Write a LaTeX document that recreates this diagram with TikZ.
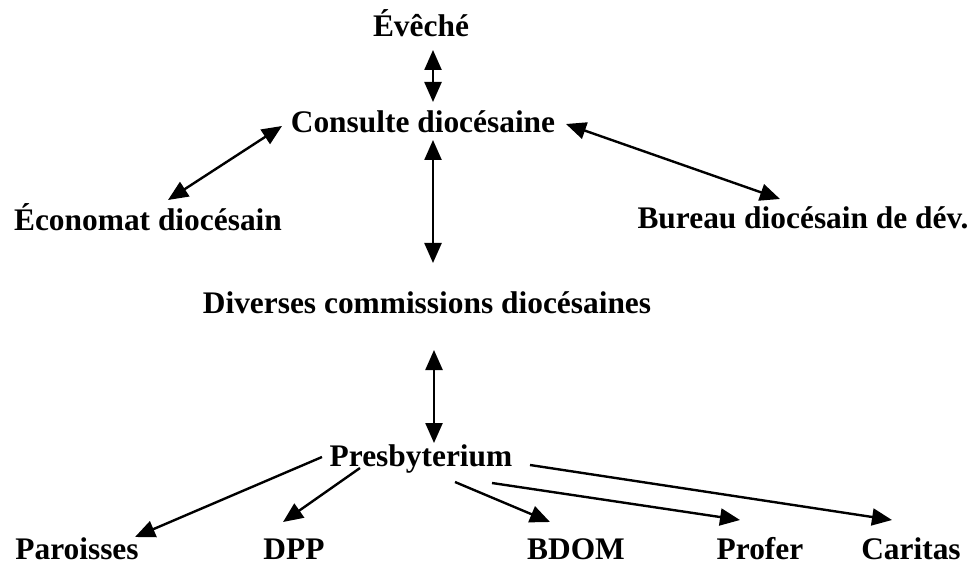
\documentclass[tikz,border=0pt]{standalone}
\usepackage{fontspec}
\setmainfont{Liberation Serif}
\usetikzlibrary{arrows.meta}
\tikzset{
  lbl/.style={anchor=base, inner sep=0pt, font=\fontsize{31.4}{36}\selectfont\bfseries},
  arr/.style={line width=2.4pt, -{Triangle[length=20pt,width=17pt]}},
  darr/.style={line width=2.4pt, {Triangle[length=20pt,width=17pt]}-{Triangle[length=20pt,width=17pt]}}
}
\begin{document}
\begin{tikzpicture}[x=1pt,y=-1pt]
\useasboundingbox (0,0) rectangle (978,564);
\node[lbl] (eveche) at (421,37) {Évêché};
\node[lbl] (consulte) at (423,133) {Consulte diocésaine};
\node[lbl] (economat) at (148,231) {Économat diocésain};
\node[lbl] (bureau) at (803,229) {Bureau diocésain de dév.};
\node[lbl] (diverses) at (427,313) {Diverses commissions diocésaines};
\node[lbl] (presby) at (421,466) {Presbyterium};
\node[lbl] (paroisses) at (77,559) {Paroisses};
\node[lbl] (dpp) at (294,559) {DPP};
\node[lbl] (bdom) at (576,559) {BDOM};
\node[lbl] (profer) at (760,559) {Profer};
\node[lbl] (caritas) at (911,559) {Caritas};

\draw[darr] ([shift={(12,13)}]eveche.base) -- ([shift={(10,-31)}]consulte.base);
\draw[darr] ([shift={(-141,-7)}]consulte.base) -- ([shift={(20,-31)}]economat.base);
\draw[darr] ([shift={(143,-9)}]consulte.base) -- ([shift={(-23,-30)}]bureau.base);
\draw[darr] ([shift={(10,7)}]consulte.base) -- ([shift={(6,-50)}]diverses.base);
\draw[darr] ([shift={(7,37)}]diverses.base) -- ([shift={(13,-23)}]presby.base);
\draw[arr] ([shift={(-99,-9)}]presby.base) -- ([shift={(58,-22)}]paroisses.base);
\draw[arr] ([shift={(-61,2)}]presby.base) -- ([shift={(-11,-37)}]dpp.base);
\draw[arr] ([shift={(34,16)}]presby.base) -- ([shift={(-26,-37)}]bdom.base);
\draw[arr] ([shift={(71,17)}]presby.base) -- ([shift={(-20,-39)}]profer.base);
\draw[arr] ([shift={(109,-1)}]presby.base) -- ([shift={(-19,-39)}]caritas.base);
\end{tikzpicture}
\end{document}
